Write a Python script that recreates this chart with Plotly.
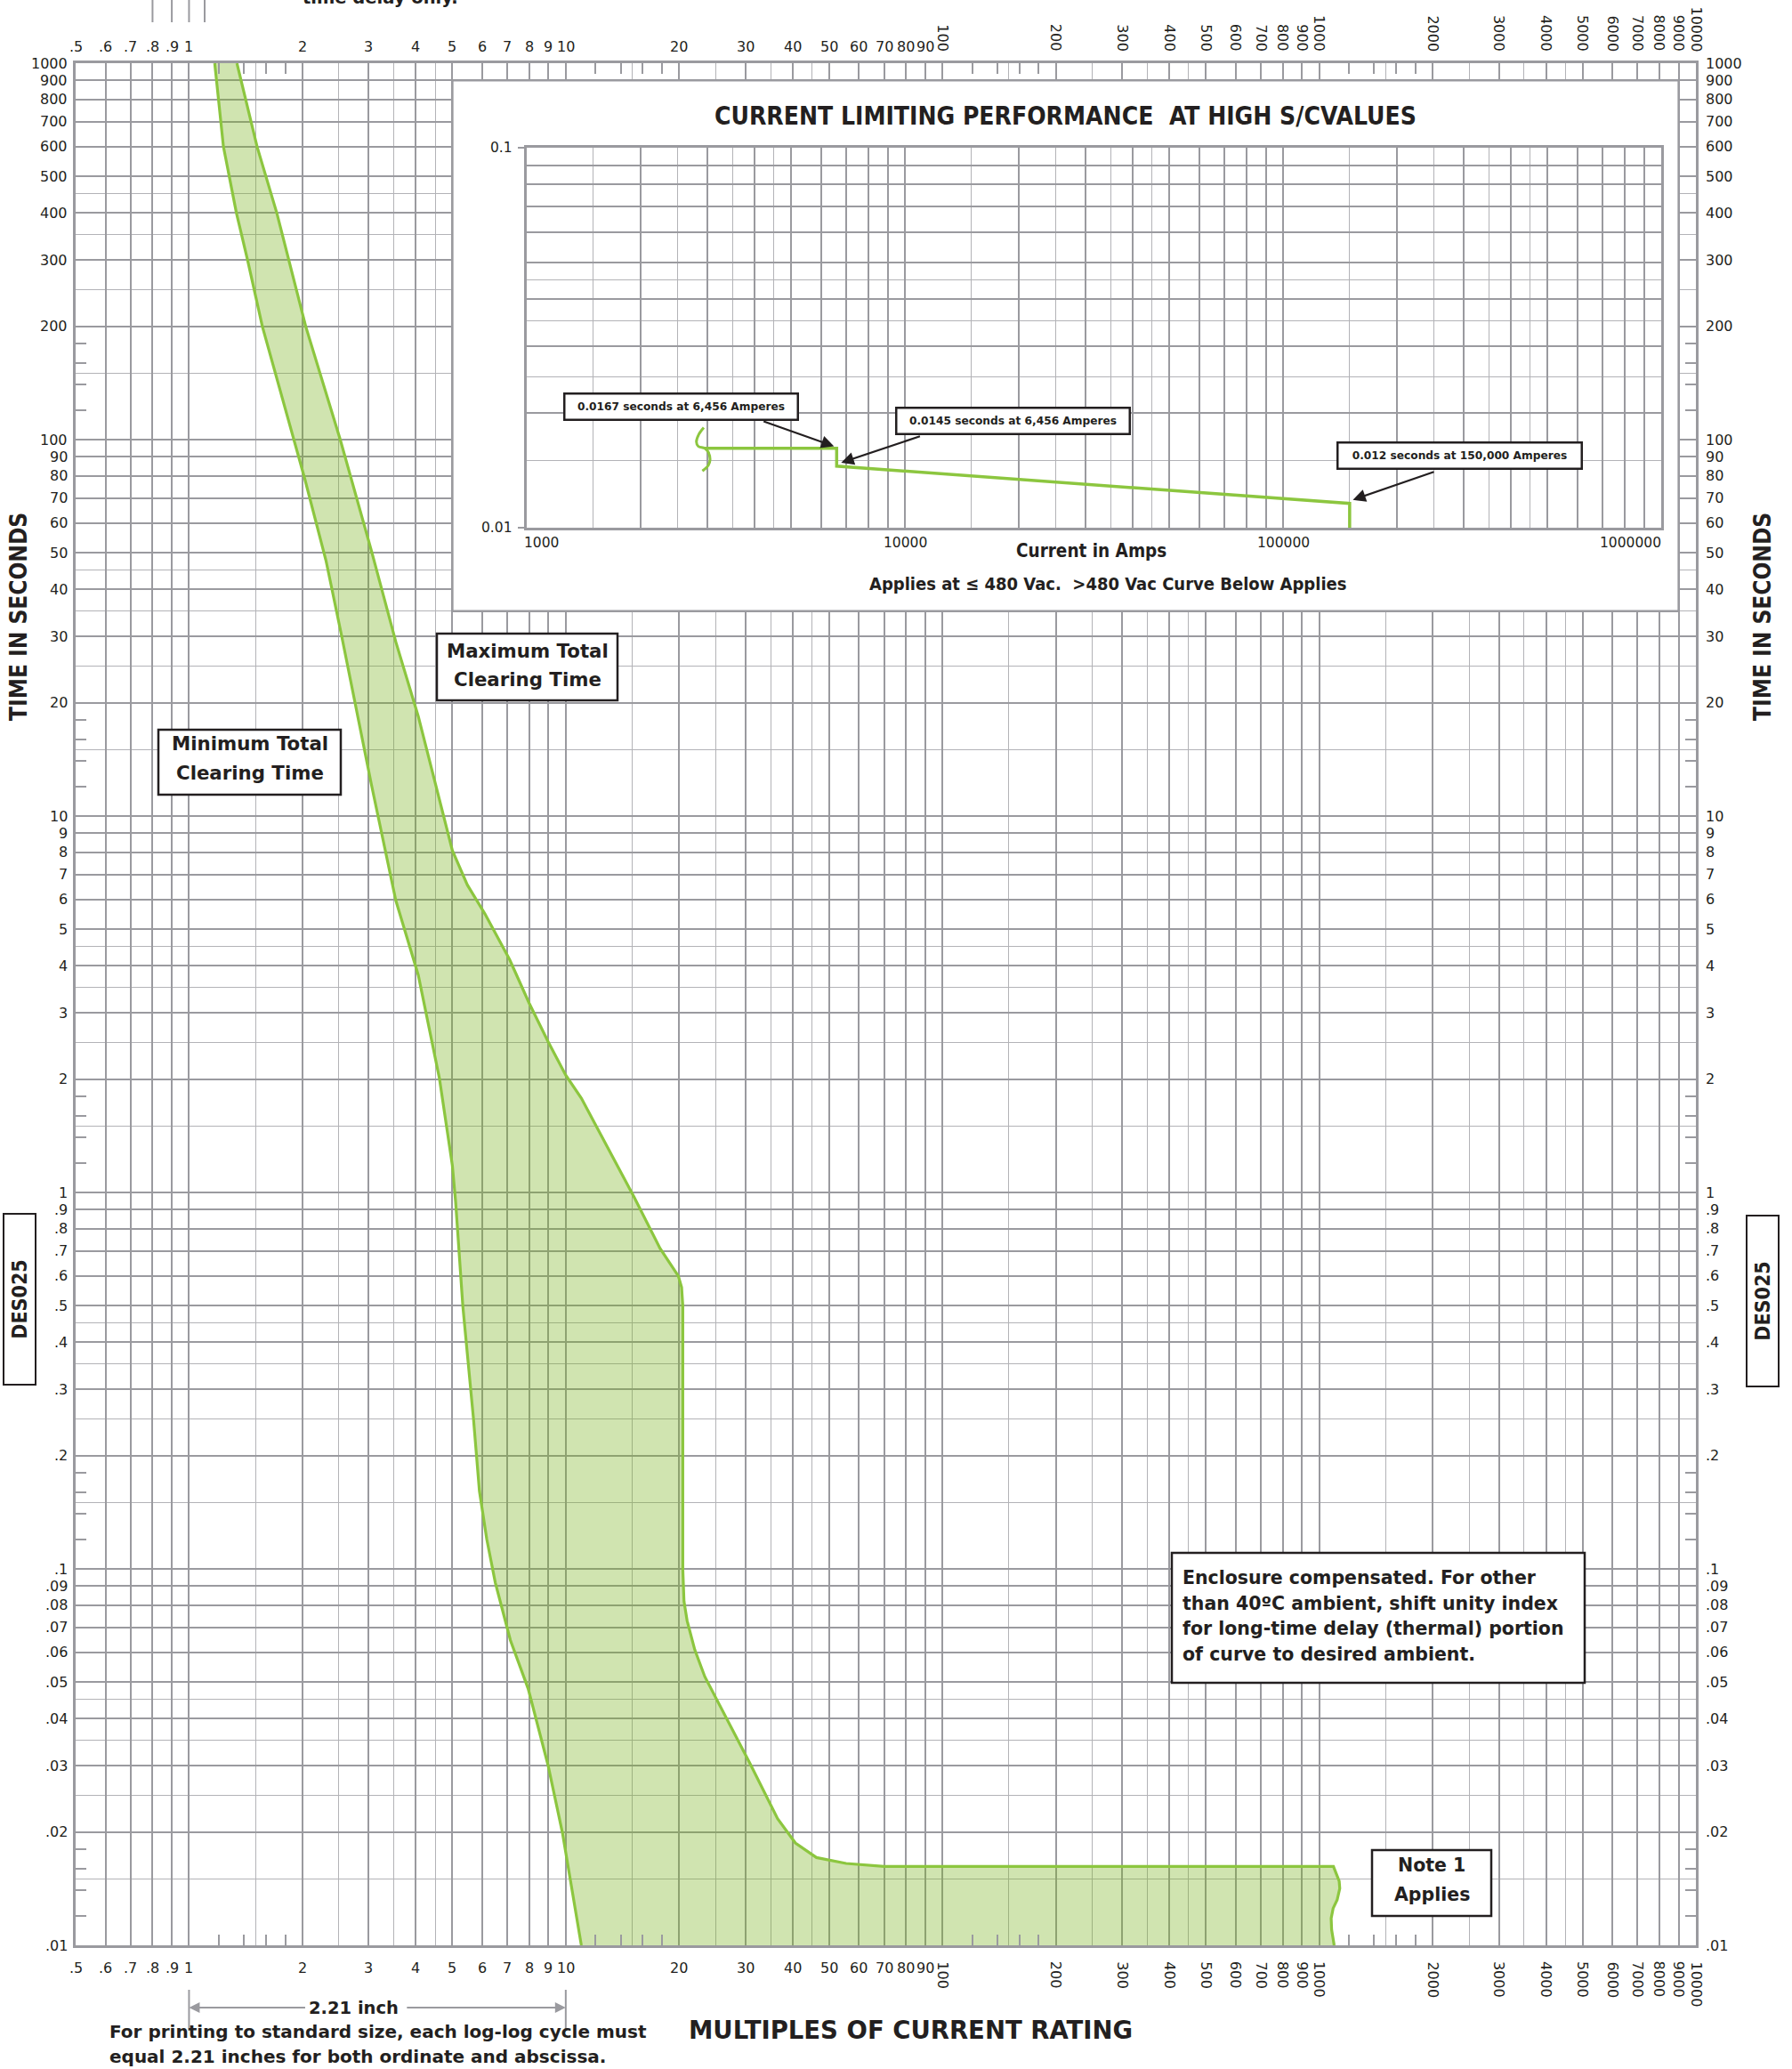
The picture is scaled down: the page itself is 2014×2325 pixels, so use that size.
import numpy as np
import plotly.graph_objects as go

# ---------------- data ----------------
# Minimum total clearing time curve (multiples of rating, seconds)
min_mult = [1.17, 1.234, 1.336, 1.43, 1.565, 1.9, 2.03, 2.31, 2.54, 3.05, 3.54, 4.06, 4.62,
            5.0, 5.1, 5.33, 5.69, 5.9, 6.17, 6.5, 7.13, 7.95, 8.98, 9.8, 11.0]
min_time = [1000, 600, 400, 300, 200, 100, 78.5, 47.7, 30.2, 12.1, 5.96, 3.78, 2.01,
            1.18, 0.947, 0.5, 0.25, 0.161, 0.12, 0.092, 0.0646, 0.048, 0.030, 0.0199, 0.01]

# Maximum total clearing time curve
max_mult = [1.34, 1.516, 1.71, 1.84, 2.04, 2.52, 3.05, 3.54, 4.06, 5.0, 5.48, 6.1, 7.1, 8.0,
            8.97, 10.0, 11.0, 15.2, 17.8, 19.9, 20.3, 20.45, 20.45, 20.6, 21.0, 22.0, 23.4,
            30.8, 36.5, 40.7, 46.3, 55.5, 70.0, 1091]
max_time = [1000, 600, 400, 300, 200, 100, 50.6, 29, 18.4, 8.1, 6.56, 5.5, 4.15, 3.18,
            2.52, 2.05, 1.78, 0.97, 0.71, 0.6, 0.56, 0.5, 0.1, 0.082, 0.0728, 0.061, 0.0517,
            0.0305, 0.0217, 0.0187, 0.0171, 0.0165, 0.0162, 0.0162]

# wavy "break" at the end of the instantaneous band
tail_mult = [1091, 1130, 1134, 1116, 1089, 1076, 1079, 1096]
tail_time = [0.0162, 0.0148, 0.01416, 0.0132, 0.01254, 0.0118, 0.0110, 0.0100]

# Inset: current limiting performance (amperes, seconds)
brace_amps = [2939, 2851, 2810, 2841, 2955, 3020, 3053, 3020, 2914]
brace_time = [0.01835, 0.01761, 0.01683, 0.01638, 0.01618, 0.01581, 0.0151, 0.01458, 0.0141]
inset_amps = [2955, 6600, 6600, 150000, 150000]
inset_time = [0.01618, 0.01618, 0.01452, 0.01159, 0.0100]

# Inset callouts
callout_text = ["0.0167 seconds at 6,456 Amperes",
                "0.0145 seconds at 6,456 Amperes",
                "0.012 seconds at 150,000 Amperes"]
callout_box_amps = [2563, 19340, 293500]
callout_box_time = [0.02085, 0.01908, 0.01548]
callout_tail_amps = [4196, 11050, 252600]
callout_tail_time = [0.0191, 0.01745, 0.01406]
callout_head_amps = [6494, 6784, 153000]
callout_head_time = [0.01638, 0.01483, 0.01184]

# Tick labels of the main chart
x_lab_h_vals = [0.5, 0.6, 0.7, 0.8, 0.9, 1, 2, 3, 4, 5, 6, 7, 8, 9, 10,
                20, 30, 40, 50, 60, 70, 80, 90]
x_lab_h_text = [".5", ".6", ".7", ".8", ".9", "1", "2", "3", "4", "5", "6", "7", "8", "9", "10",
                "20", "30", "40", "50", "60", "70", "80", "90"]
x_lab_r_vals = [100, 200, 300, 400, 500, 600, 700, 800, 900, 1000,
                2000, 3000, 4000, 5000, 6000, 7000, 8000, 9000, 10000]
x_lab_r_text = [str(v) for v in x_lab_r_vals]
y_lab_vals = [1000, 900, 800, 700, 600, 500, 400, 300, 200,
              100, 90, 80, 70, 60, 50, 40, 30, 20,
              10, 9, 8, 7, 6, 5, 4, 3, 2,
              1, 0.9, 0.8, 0.7, 0.6, 0.5, 0.4, 0.3, 0.2,
              0.1, 0.09, 0.08, 0.07, 0.06, 0.05, 0.04, 0.03, 0.02, 0.01]
y_lab_text = ["1000", "900", "800", "700", "600", "500", "400", "300", "200",
              "100", "90", "80", "70", "60", "50", "40", "30", "20",
              "10", "9", "8", "7", "6", "5", "4", "3", "2",
              "1", ".9", ".8", ".7", ".6", ".5", ".4", ".3", ".2",
              ".1", ".09", ".08", ".07", ".06", ".05", ".04", ".03", ".02", ".01"]

# Inset tick labels
inset_x_lab_vals = [1000, 10000, 100000, 1000000]
inset_x_lab_text = ["1000", "10000", "100000", "1000000"]
inset_y_lab_vals = [0.1, 0.01]
inset_y_lab_text = ["0.1", "0.01"]

# grid structure (log-log paper)
major_mults = [1, 2, 3, 4, 5, 6, 7, 8, 9]
half_mults = [1.5, 2.5, 3.5, 4.5]
edge_mults = [1.2, 1.4, 1.6, 1.8]

inset_box_x = [5, 9000]      # white panel in main-axis coordinates
inset_box_y = [35, 900]
inch_marks = [1, 10]          # one log cycle
top_stub_x = [0.8, 0.9, 1.0, 1.1]

# ---------------- geometry / style ----------------
W, H = 2014, 2325
L, R, T, B = 85, 108, 71, 139
PW = W - L - R
PH = H - T - B


def PX(X):
    return (X - L) / PW


def PY(Y):
    return (H - B - Y) / PH


GRID = "#9a9a9f"
GRID_THIN = "#b3b3b7"
INK = "#231f20"
GREEN = "#8cc63f"
FILL = "rgba(121,178,29,0.35)"
SANS = "DejaVu Sans"
NARROW = "Liberation Sans Narrow, DejaVu Sans Condensed, Arial Narrow, sans-serif"


def vals(mults, k0, k1, lo, hi):
    out = []
    for k in range(k0, k1 + 1):
        for m in mults:
            v = round(m * 10 ** k, 10)
            if lo - 1e-12 <= v <= hi + 1e-12:
                out.append(v)
    return out


X_LO, X_HI = 0.5, 10000
Y_LO, Y_HI = 0.01, 1000
IX_LO, IX_HI = 1000, 1e6
IY_LO, IY_HI = 0.01, 0.1

fig = go.Figure()

# ---------------- main curves ----------------
poly_x = list(min_mult) + list(reversed(tail_mult)) + list(reversed(max_mult))
poly_y = list(min_time) + list(reversed(tail_time)) + list(reversed(max_time))
fig.add_trace(go.Scatter(x=poly_x, y=poly_y, mode="none", fill="toself", fillcolor=FILL,
                         hoverinfo="skip", showlegend=False))
fig.add_trace(go.Scatter(x=min_mult, y=min_time, mode="lines",
                         line=dict(color=GREEN, width=3.2), hoverinfo="skip", showlegend=False))
fig.add_trace(go.Scatter(x=list(max_mult) + list(tail_mult[1:]), y=list(max_time) + list(tail_time[1:]),
                         mode="lines", line=dict(color=GREEN, width=3.2), hoverinfo="skip", showlegend=False))

# ---------------- inset curves ----------------
fig.add_trace(go.Scatter(x=brace_amps, y=brace_time, xaxis="x2", yaxis="y2", mode="lines",
                         line=dict(color=GREEN, width=3, shape="spline"), hoverinfo="skip", showlegend=False))
fig.add_trace(go.Scatter(x=inset_amps, y=inset_time, xaxis="x2", yaxis="y2", mode="lines",
                         line=dict(color=GREEN, width=3.5), hoverinfo="skip", showlegend=False))

# dummy traces so the overlay axes (edge ticks, decade lines) are rendered
for xa, ya, xv, yv in [("x3", "y", 1, 1), ("x", "y3", 1, 1), ("x4", "y2", 1e4, 0.05), ("x2", "y4", 1e4, 0.05)]:
    fig.add_trace(go.Scatter(x=[xv], y=[yv], xaxis=xa, yaxis=ya, mode="markers",
                             marker=dict(opacity=0), hoverinfo="skip", showlegend=False))


def base_axis(lo, hi, k0, k1, domain, anchor):
    return dict(type="log", range=[np.log10(lo), np.log10(hi)], domain=domain, anchor=anchor,
                tickmode="array", tickvals=vals(major_mults, k0, k1, lo, hi),
                showticklabels=False, ticks="", showgrid=True, gridcolor=GRID, gridwidth=2,
                minor=dict(tickmode="array", tickvals=vals(half_mults, k0, k1, lo, hi),
                           showgrid=True, gridcolor=GRID_THIN, gridwidth=1.3, ticks=""),
                showline=True, linecolor=GRID, linewidth=3, mirror=True, zeroline=False,
                fixedrange=True)


def overlay_axis(over, anchor, lo, hi, k0, k1, tickvals, tickdir, ticklen, mirror, side):
    return dict(type="log", range=[np.log10(lo), np.log10(hi)], overlaying=over, anchor=anchor, side=side,
                tickmode="array", tickvals=tickvals, ticks=tickdir, ticklen=ticklen, tickwidth=1.6,
                tickcolor=GRID, showticklabels=False, showgrid=False,
                showline=bool(mirror), linecolor=GRID, linewidth=3, mirror=mirror, zeroline=False,
                minor=dict(tickmode="array", tickvals=vals([1], k0, k1, lo, hi), showgrid=True,
                           gridcolor=GRID, gridwidth=2.4, ticks=""),
                fixedrange=True)


inset_dom_x = [PX(592), PX(1867)]
inset_dom_y = [PY(593), PY(166)]

layout = dict(
    width=W, height=H, autosize=False,
    margin=dict(l=L, r=R, t=T, b=B, pad=0),
    paper_bgcolor="white", plot_bgcolor="white",
    showlegend=False,
    xaxis=base_axis(X_LO, X_HI, -1, 4, [0, 1], "y"),
    yaxis=base_axis(Y_LO, Y_HI, -2, 3, [0, 1], "x"),
    xaxis2=base_axis(IX_LO, IX_HI, 3, 6, inset_dom_x, "y2"),
    yaxis2=base_axis(IY_LO, IY_HI, -2, -1, inset_dom_y, "x2"),
    xaxis3=overlay_axis("x", "y", X_LO, X_HI, -1, 4, vals(edge_mults, 0, 3, X_LO, X_HI),
                        "inside", 12, "ticks", "bottom"),
    yaxis3=overlay_axis("y", "x", Y_LO, Y_HI, -2, 3, vals(edge_mults, -2, 2, Y_LO, Y_HI),
                        "inside", 12, "ticks", "left"),
    xaxis4=overlay_axis("x2", "y2", IX_LO, IX_HI, 3, 6, [], "", 0, False, "bottom"),
    yaxis4=overlay_axis("y2", "x2", IY_LO, IY_HI, -2, -1, [IY_LO, IY_HI], "outside", 9, False, "left"),
)
fig.update_layout(**layout)

# ---------------- shapes ----------------
shapes = []
shapes.append(dict(type="rect", xref="x", yref="y", x0=inset_box_x[0], x1=inset_box_x[1],
                   y0=inset_box_y[0], y1=inset_box_y[1], fillcolor="white",
                   line=dict(color=GRID, width=2.5), layer="between"))
for v in inch_marks:
    shapes.append(dict(type="line", xref="x", yref="paper", x0=v, x1=v, y0=PY(2282), y1=PY(2236),
                       line=dict(color=GRID, width=2)))
for v in top_stub_x:
    shapes.append(dict(type="line", xref="x", yref="paper", x0=v, x1=v, y0=PY(25), y1=PY(-5),
                       line=dict(color=GRID, width=2)))

ann = []


def boxed_text(lines, x0, x1, y0, y1, line_y, font, text_x=None):
    """white framed box (paper coords from page pixels) with separately placed text lines"""
    shapes.append(dict(type="rect", xref="paper", yref="paper", x0=PX(x0), x1=PX(x1),
                       y0=PY(y1), y1=PY(y0), fillcolor="white", line=dict(color=INK, width=2.5),
                       layer="above"))
    for t, ly in zip(lines, line_y):
        if text_x is None:
            ann.append(dict(x=PX((x0 + x1) / 2), y=PY(ly), xref="paper", yref="paper",
                            xanchor="center", yanchor="middle", showarrow=False, text=t, font=font))
        else:
            ann.append(dict(x=PX(text_x), y=PY(ly), xref="paper", yref="paper",
                            xanchor="left", yanchor="middle", showarrow=False, text=t, font=font))


BOXF = dict(family=SANS, size=21.3, color=INK, weight="bold")
boxed_text(["Minimum Total", "Clearing Time"], 178, 383, 820, 893, [836, 868], BOXF)
boxed_text(["Maximum Total", "Clearing Time"], 491, 694, 712, 787, [731, 763], BOXF)
boxed_text(["Enclosure compensated. For other", "than 40\u00baC ambient, shift unity index",
            "for long-time delay (thermal) portion", "of curve to desired ambient."],
           1317, 1781, 1745, 1891, [1773, 1802, 1830, 1859],
           dict(family=SANS, size=20.5, color=INK, weight="bold"), text_x=1327)
boxed_text(["Note 1", "Applies"], 1542, 1676, 2079, 2153, [2096, 2129],
           dict(family=SANS, size=20.5, color=INK, weight="bold"))

fig.update_layout(shapes=shapes)

# ---------------- annotations ----------------
TICK = dict(family=SANS, size=16, color=INK)

for v, t in zip(x_lab_h_vals, x_lab_h_text):
    ann.append(dict(x=np.log10(v), xref="x", y=1, yref="paper", xanchor="center", yanchor="middle",
                    yshift=19, text=t, showarrow=False, font=TICK))
    ann.append(dict(x=np.log10(v), xref="x", y=0, yref="paper", xanchor="center", yanchor="middle",
                    yshift=-25, text=t, showarrow=False, font=TICK))
for v, t in zip(x_lab_r_vals, x_lab_r_text):
    ann.append(dict(x=np.log10(v), xref="x", y=1, yref="paper", xanchor="center", yanchor="bottom",
                    yshift=11, text=t, textangle=90, showarrow=False, font=TICK))
    ann.append(dict(x=np.log10(v), xref="x", y=0, yref="paper", xanchor="center", yanchor="top",
                    yshift=-16, text=t, textangle=90, showarrow=False, font=TICK))
for v, t in zip(y_lab_vals, y_lab_text):
    ann.append(dict(x=0, xref="paper", y=np.log10(v), yref="y", xanchor="right", yanchor="middle",
                    xshift=-7, text=t, showarrow=False, font=TICK))
    ann.append(dict(x=1, xref="paper", y=np.log10(v), yref="y", xanchor="left", yanchor="middle",
                    xshift=9, text=t, showarrow=False, font=TICK))

# inset tick labels
INSET_TICK = dict(family=SANS, size=15.5, color=INK)
inset_shift = [16, 0, 0, -35]
for v, t, s in zip(inset_x_lab_vals, inset_x_lab_text, inset_shift):
    ann.append(dict(x=np.log10(v), xref="x2", y=inset_dom_y[0], yref="paper", xanchor="center",
                    yanchor="middle", yshift=-17, xshift=s, text=t, showarrow=False, font=INSET_TICK))
for v, t in zip(inset_y_lab_vals, inset_y_lab_text):
    ann.append(dict(x=inset_dom_x[0], xref="paper", y=np.log10(v), yref="y2", xanchor="right",
                    yanchor="middle", xshift=-14, text=t, showarrow=False, font=INSET_TICK))


def ptext(X, Y, text, font, **kw):
    d = dict(x=PX(X), y=PY(Y), xref="paper", yref="paper", xanchor="center", yanchor="middle",
             showarrow=False, text=text, font=font)
    d.update(kw)
    ann.append(d)


# inset titles
ptext(1197, 130, "CURRENT LIMITING PERFORMANCE  AT HIGH S/CVALUES",
      dict(family=NARROW, size=28, color=INK, weight="bold"))
ptext(1226, 619, "Current in Amps", dict(family=NARROW, size=20.5, color=INK, weight="bold"))
ptext(1245, 656, "Applies at \u2264 480 Vac.  >480 Vac Curve Below Applies",
      dict(family=NARROW, size=20, color=INK, weight="bold"))

# inset callouts
CALL = dict(family=SANS, size=12.2, color=INK, weight="bold")
for t, bx, by in zip(callout_text, callout_box_amps, callout_box_time):
    ann.append(dict(x=np.log10(bx), y=np.log10(by), xref="x2", yref="y2", xanchor="center",
                    yanchor="middle", showarrow=False, text=t,
                    font=CALL, bgcolor="white", bordercolor=INK, borderwidth=2.5, borderpad=5,
                    width=250 if "150,000" not in t else 262, height=17))
for tx, ty, hx, hy in zip(callout_tail_amps, callout_tail_time, callout_head_amps, callout_head_time):
    ann.append(dict(x=np.log10(hx), y=np.log10(hy), xref="x2", yref="y2",
                    ax=np.log10(tx), ay=np.log10(ty), axref="x2", ayref="y2", text="",
                    showarrow=True, arrowhead=2, arrowsize=1.3, arrowwidth=2.2, arrowcolor=INK,
                    standoff=0, startstandoff=0))

# side labels
SIDE = dict(family=NARROW, size=26, color=INK, weight="bold")
for X in (21, 1981):
    ptext(X, 693, "TIME IN SECONDS", SIDE, textangle=-90)
for X, Y in ((22, 1460), (1981, 1462)):
    ptext(X, Y, "DES025", dict(family=NARROW, size=23, color=INK, weight="bold"), textangle=-90,
          bgcolor="white", bordercolor=INK, borderwidth=2, borderpad=3, width=184, height=28)

# bottom texts
ptext(1023, 2281, "MULTIPLES OF CURRENT RATING", dict(family=SANS, size=27.5, color=INK, weight="bold"))
ptext(397, 2256, "2.21 inch", dict(family=SANS, size=19.5, color=INK, weight="bold"))
ptext(121, 2283, "For printing to standard size, each log-log cycle must",
      dict(family=SANS, size=20, color=INK, weight="bold"), xanchor="left")
ptext(121, 2311, "equal 2.21 inches for both ordinate and abscissa.",
      dict(family=SANS, size=20, color=INK, weight="bold"), xanchor="left")
# dimension arrows for one log cycle
ann.append(dict(x=np.log10(inch_marks[0]), xref="x", y=PY(2256), yref="paper", ax=132, ay=0,
                text="", showarrow=True, arrowhead=2, arrowsize=1.2, arrowwidth=2, arrowcolor=GRID,
                standoff=0))
ann.append(dict(x=np.log10(inch_marks[1]), xref="x", y=PY(2256), yref="paper", ax=-180, ay=0,
                text="", showarrow=True, arrowhead=2, arrowsize=1.2, arrowwidth=2, arrowcolor=GRID,
                standoff=0))
# text clipped at the very top of the page (as in the reference)
ptext(427, 11, "time delay only.", dict(family=SANS, size=19.5, color=INK, weight="bold"),
      yanchor="bottom")

fig.update_layout(annotations=ann)

fig.write_html("out.html", config={"displayModeBar": False},
               post_script="document.body.style.margin='0px';")
